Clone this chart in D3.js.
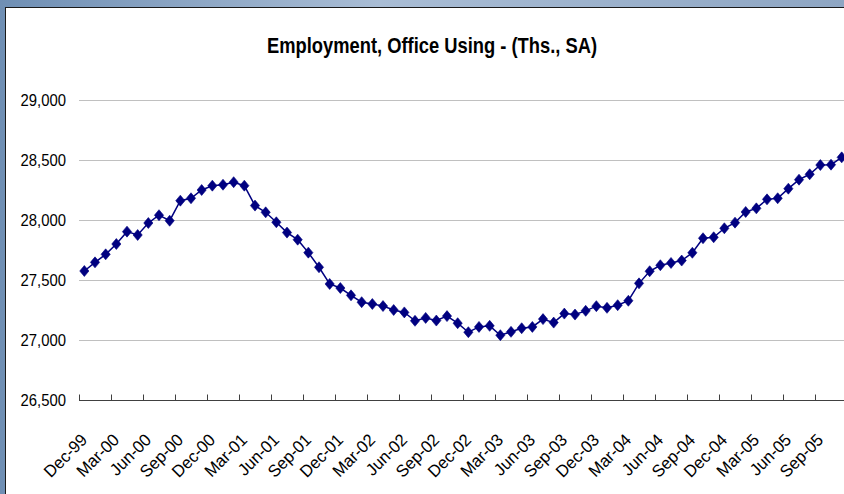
<!DOCTYPE html>
<html>
<head>
<meta charset="utf-8">
<script src="https://cdn.jsdelivr.net/npm/d3@7"></script>
<style>
  html, body { margin: 0; padding: 0; }
  body { width: 844px; height: 494px; overflow: hidden; background: #8fa7c4; }
  svg { display: block; }
</style>
</head>
<body>
<svg id="chart" width="844" height="494"></svg>
<script>
// ---- data ----
const categories = [
  "Dec-99",
  "Jan-00","Feb-00","Mar-00","Apr-00","May-00","Jun-00","Jul-00","Aug-00","Sep-00","Oct-00","Nov-00","Dec-00",
  "Jan-01","Feb-01","Mar-01","Apr-01","May-01","Jun-01","Jul-01","Aug-01","Sep-01","Oct-01","Nov-01","Dec-01",
  "Jan-02","Feb-02","Mar-02","Apr-02","May-02","Jun-02","Jul-02","Aug-02","Sep-02","Oct-02","Nov-02","Dec-02",
  "Jan-03","Feb-03","Mar-03","Apr-03","May-03","Jun-03","Jul-03","Aug-03","Sep-03","Oct-03","Nov-03","Dec-03",
  "Jan-04","Feb-04","Mar-04","Apr-04","May-04","Jun-04","Jul-04","Aug-04","Sep-04","Oct-04","Nov-04","Dec-04",
  "Jan-05","Feb-05","Mar-05","Apr-05","May-05","Jun-05","Jul-05","Aug-05","Sep-05","Oct-05","Nov-05"
];
const employment = [
  27575, 27647, 27714, 27800, 27903, 27875, 27975, 28040, 27994, 28161, 28181, 28250,
  28286, 28294, 28315, 28286, 28120, 28064, 27981, 27895, 27836, 27728, 27606, 27467,
  27433, 27372, 27315, 27300, 27283, 27250, 27230, 27160, 27184, 27162, 27199, 27140,
  27065, 27109, 27118, 27040, 27068, 27098, 27109, 27174, 27145, 27220, 27212, 27243,
  27282, 27268, 27290, 27327, 27472, 27573, 27623, 27642, 27662, 27727, 27848, 27856,
  27931, 27978, 28067, 28097, 28172, 28181, 28261, 28336, 28381, 28458, 28461, 28522
];
const yTicks = [26500, 27000, 27500, 28000, 28500, 29000];
const tickLabels = categories.filter((d, i) => i % 3 === 0);
const title = "Employment, Office Using - (Ths., SA)";

// ---- drawing ----
const svg = d3.select("#chart");
const W = 844, H = 494;
const FONT = "'Liberation Sans', Arial, sans-serif";
const plot = { left: 79, top: 100, bottom: 400, step: 10.667 };
plot.right = plot.left + plot.step * categories.length;

function condense(sel, factor) {
  sel.each(function () {
    const len = this.getComputedTextLength();
    d3.select(this).attr("textLength", len * factor).attr("lengthAdjust", "spacingAndGlyphs");
  });
}

// background frame
const defs = svg.append("defs");
const grad = defs.append("linearGradient").attr("id", "bg").attr("x1", "0").attr("x2", "1").attr("y1", "0").attr("y2", "0");
grad.append("stop").attr("offset", "0%").attr("stop-color", "#6f8fb4");
grad.append("stop").attr("offset", "45%").attr("stop-color", "#a9bdd5");
grad.append("stop").attr("offset", "100%").attr("stop-color", "#8ea6c3");
svg.append("rect").attr("width", W).attr("height", H).attr("fill", "url(#bg)");
svg.append("rect").attr("x", 5.5).attr("y", 7.5).attr("width", W + 10).attr("height", H + 10)
  .attr("fill", "#ffffff").attr("stroke", "#1a1a1a").attr("stroke-width", 1);

const x = d3.scaleBand().domain(categories).range([plot.left, plot.right]).padding(0);
const y = d3.scaleLinear().domain([26500, 29000]).range([plot.bottom, plot.top]);

// gridlines
svg.append("g").selectAll("line").data(yTicks.filter(v => v !== 26500)).join("line")
  .attr("x1", plot.left).attr("x2", plot.right)
  .attr("y1", d => Math.round(y(d)) + 0.5).attr("y2", d => Math.round(y(d)) + 0.5)
  .attr("stroke", "#c0c0c0").attr("stroke-width", 1);

// y axis labels
const yAxis = d3.axisLeft(y).tickValues(yTicks).tickSize(0).tickPadding(0)
  .tickFormat(d3.format(","));
const gy = svg.append("g").attr("transform", `translate(${plot.left - 13},0)`).call(yAxis);
gy.select(".domain").remove();
gy.selectAll("text").attr("font-family", FONT)
  .attr("font-size", 16.5).attr("fill", "#000");
condense(gy.selectAll("text"), 0.9);

// x axis
const xAxis = d3.axisBottom(x)
  .tickValues(tickLabels)
  .tickSize(0).tickFormat("");
const gx = svg.append("g").attr("transform", `translate(0,${plot.bottom + 0.5})`).call(xAxis);
gx.select(".domain").attr("d", `M${plot.left},0H${plot.right}`).attr("stroke", "#404040").attr("stroke-width", 1);
gx.selectAll(".tick line").remove();
gx.selectAll(".tickmark").data(tickLabels).join("line")
  .attr("class", "tickmark")
  .attr("x1", d => Math.round(x(d)) + 0.5).attr("x2", d => Math.round(x(d)) + 0.5)
  .attr("y1", 0).attr("y2", -6)
  .attr("stroke", "#404040").attr("stroke-width", 1);
// rotated labels
const xl = svg.append("g").selectAll("text").data(tickLabels).join("text")
  .attr("transform", d => `translate(${x(d) + x.bandwidth() / 2 + 4},${plot.bottom + 41}) rotate(-45)`)
  .attr("text-anchor", "end")
  .attr("font-family", FONT)
  .attr("font-size", 17).attr("fill", "#000")
  .text(d => d);
condense(xl, 0.97);

// line
const cx = d => x(d) + x.bandwidth() / 2;
const line = d3.line().x((d, i) => cx(categories[i])).y(d => y(d));
svg.append("path").datum(employment).attr("d", line)
  .attr("fill", "none").attr("stroke", "#000080").attr("stroke-width", 1.5);

// diamond markers
svg.append("g").selectAll("path").data(employment).join("path")
  .attr("d", (d, i) => {
    const px = cx(categories[i]), py = y(d);
    return `M${px},${py - 5.5}L${px + 4.6},${py}L${px},${py + 5.5}L${px - 4.6},${py}Z`;
  })
  .attr("fill", "#000080").attr("stroke", "#000080").attr("stroke-width", 0.6);

// title
const t = svg.append("text").attr("x", 432).attr("y", 53).attr("text-anchor", "middle")
  .attr("font-family", FONT)
  .attr("font-weight", "bold").attr("font-size", 22).attr("fill", "#000")
  .text(title);
t.attr("textLength", 330).attr("lengthAdjust", "spacingAndGlyphs");
</script>
</body>
</html>
